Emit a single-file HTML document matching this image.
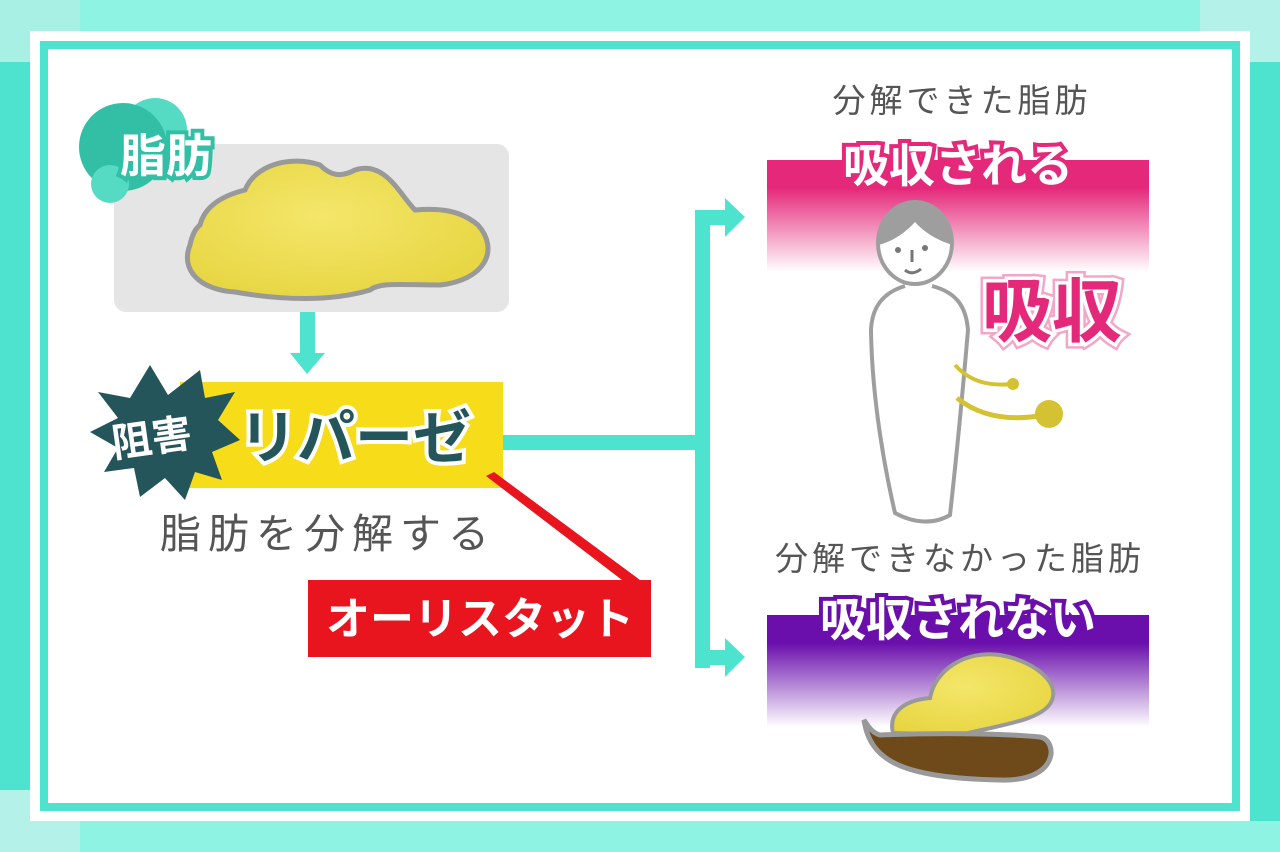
<!DOCTYPE html>
<html><head><meta charset="utf-8"><style>
html,body{margin:0;padding:0;width:1280px;height:852px;overflow:hidden;background:#fff}
svg{display:block}
text{font-family:"Liberation Sans","Noto Sans CJK JP",sans-serif}
</style></head><body>
<svg width="1280" height="852" viewBox="0 0 1280 852" xmlns="http://www.w3.org/2000/svg">
<defs>
<linearGradient id="pk" x1="0" y1="0" x2="0" y2="1">
<stop offset="0" stop-color="#e5297a"/><stop offset="0.25" stop-color="#e5297a"/><stop offset="1" stop-color="#e5297a" stop-opacity="0"/></linearGradient>
<linearGradient id="pu" x1="0" y1="0" x2="0" y2="1">
<stop offset="0" stop-color="#6a0fab"/><stop offset="0.25" stop-color="#6a0fab"/><stop offset="1" stop-color="#6a0fab" stop-opacity="0"/></linearGradient>
<radialGradient id="fat" cx="0.45" cy="0.4" r="0.7">
<stop offset="0" stop-color="#f4e66a"/><stop offset="1" stop-color="#e6d43e"/></radialGradient>
</defs>
<rect x="0" y="0" width="1280" height="852" fill="#4de3cf"/>
<rect x="0" y="0" width="1200" height="31" fill="#8ff3e3"/>
<rect x="1200" y="0" width="80" height="62" fill="#b4f1e8"/>
<rect x="0" y="0" width="80" height="62" fill="#a8efe4"/>
<rect x="80" y="821" width="1200" height="31" fill="#8ff3e3"/>
<rect x="0" y="790" width="80" height="62" fill="#b4f1e8"/>
<rect x="30" y="31" width="1220" height="790" fill="#fff"/>
<rect x="44" y="45" width="1192" height="762" fill="#fff" stroke="#4de3cf" stroke-width="8"/>

<rect x="114" y="144" width="395" height="168" rx="12" fill="#e5e5e5"/>
<path d="M200 225 C205 205,225 195,245 190 C255 165,290 155,320 165 C330 175,340 178,355 170 C385 160,400 195,415 210 C440 208,460 210,478 225 C500 250,485 280,440 285 C400 285,380 282,370 290 C330 302,280 300,235 292 C200 290,180 270,190 245 C192 235,196 228,200 225 Z" fill="url(#fat)" stroke="#999" stroke-width="5"/>

<circle cx="155" cy="130" r="32" fill="#55dbc3"/>
<circle cx="123" cy="147" r="44" fill="#33bfa5"/>
<circle cx="110" cy="184" r="19" fill="#55dbc3"/>
<text x="166" y="172" font-size="46" font-weight="bold" fill="#fff" stroke="#33bfa5" stroke-width="8" paint-order="stroke" text-anchor="middle">脂肪</text>

<rect x="300" y="312" width="15" height="48" fill="#4de3cf"/>
<polygon points="290,353 325,353 307,374" fill="#4de3cf"/>

<rect x="503" y="435" width="200" height="15" fill="#4de3cf"/>
<rect x="695" y="210" width="15" height="458" fill="#4de3cf"/>
<rect x="695" y="210" width="30" height="15" fill="#4de3cf"/>
<polygon points="725,198 745,217 725,237" fill="#4de3cf"/>
<rect x="695" y="650" width="30" height="15" fill="#4de3cf"/>
<polygon points="725,638 745,657 725,677" fill="#4de3cf"/>

<rect x="180" y="382" width="323" height="106" fill="#f7dc1a"/>
<polygon points="150,365 168,395 200,370 205,398 235,392 218,420 240,440 212,452 222,480 195,472 185,500 165,478 140,497 134,468 104,472 118,448 90,432 118,418 98,392 130,398" fill="#23555a"/>
<text x="152" y="452" font-size="40" font-weight="bold" fill="#fff" text-anchor="middle" transform="rotate(-8 152 440)">阻害</text>
<text x="355" y="458" font-size="58" font-weight="bold" fill="#23555a" stroke="#fff" stroke-width="8" paint-order="stroke" text-anchor="middle">リパーゼ</text>
<text x="328" y="548" font-size="41" fill="#555" text-anchor="middle" letter-spacing="7">脂肪を分解する</text>

<polygon points="486,476 494,472 640,580 622,580" fill="#e8151f"/>
<rect x="308" y="580" width="343" height="77" fill="#e8151f"/>
<text x="480" y="634" font-size="44" font-weight="bold" fill="#fff" text-anchor="middle">オーリスタット</text>

<text x="962" y="112" font-size="33" fill="#555" text-anchor="middle" letter-spacing="4">分解できた脂肪</text>
<rect x="767" y="160" width="382" height="112" fill="url(#pk)"/>
<text x="958" y="182" font-size="46" font-weight="bold" fill="#fff" stroke="#e5297a" stroke-width="8" paint-order="stroke" text-anchor="middle">吸収される</text>
<path d="M905 286 C885 292,872 305,871 330 C872 400,885 470,895 513 C915 524,935 524,950 515 C955 470,962 400,968 330 C966 305,955 292,932 286" fill="#fff" stroke="#9e9e9e" stroke-width="4"/>
<ellipse cx="915" cy="243" rx="37" ry="41" fill="#fff" stroke="#9e9e9e" stroke-width="4"/>
<path d="M878 245 C878 215,895 202,915 202 C937 202,952 218,953 245 C935 240,922 230,915 222 C905 233,892 242,878 245 Z" fill="#9e9e9e"/>
<circle cx="898" cy="250" r="3" fill="#777"/><circle cx="925" cy="248" r="3" fill="#777"/>
<line x1="912" y1="250" x2="912" y2="262" stroke="#777" stroke-width="3"/>
<path d="M905 270 Q912 276 921 269" stroke="#777" stroke-width="3" fill="none"/>
<path d="M955 365 Q975 388 1012 384" stroke="#d4c233" stroke-width="4" fill="none"/>
<circle cx="1013" cy="384" r="6" fill="#d4c233"/>
<path d="M957 398 Q990 425 1045 415" stroke="#d4c233" stroke-width="5" fill="none"/>
<circle cx="1049" cy="414" r="14" fill="#d4c233"/>
<text x="1052" y="336" font-size="70" font-weight="bold" fill="#e5297a" stroke="#f4a6c8" stroke-width="12" paint-order="stroke" text-anchor="middle">吸収</text>
<text x="1052" y="336" font-size="70" font-weight="bold" fill="#e5297a" stroke="#fff" stroke-width="7" paint-order="stroke" text-anchor="middle">吸収</text>

<text x="960" y="570" font-size="33" fill="#555" text-anchor="middle" letter-spacing="4">分解できなかった脂肪</text>
<rect x="767" y="615" width="382" height="112" fill="url(#pu)"/>
<text x="958" y="636" font-size="46" font-weight="bold" fill="#fff" stroke="#6a0fab" stroke-width="8" paint-order="stroke" text-anchor="middle">吸収されない</text>
<path d="M893 733 C888 712,905 700,930 698 C935 670,965 650,1000 655 C1030 660,1060 680,1052 700 C1045 720,1000 725,960 735 Z" fill="url(#fat)" stroke="#999" stroke-width="4"/>
<path d="M864 720 C870 760,900 778,1000 780 C1060 782,1058 740,1040 737 C1000 733,930 733,880 735 C872 733,868 726,864 720 Z" fill="#6e4a1a" stroke="#999" stroke-width="5"/>
</svg>
</body></html>
